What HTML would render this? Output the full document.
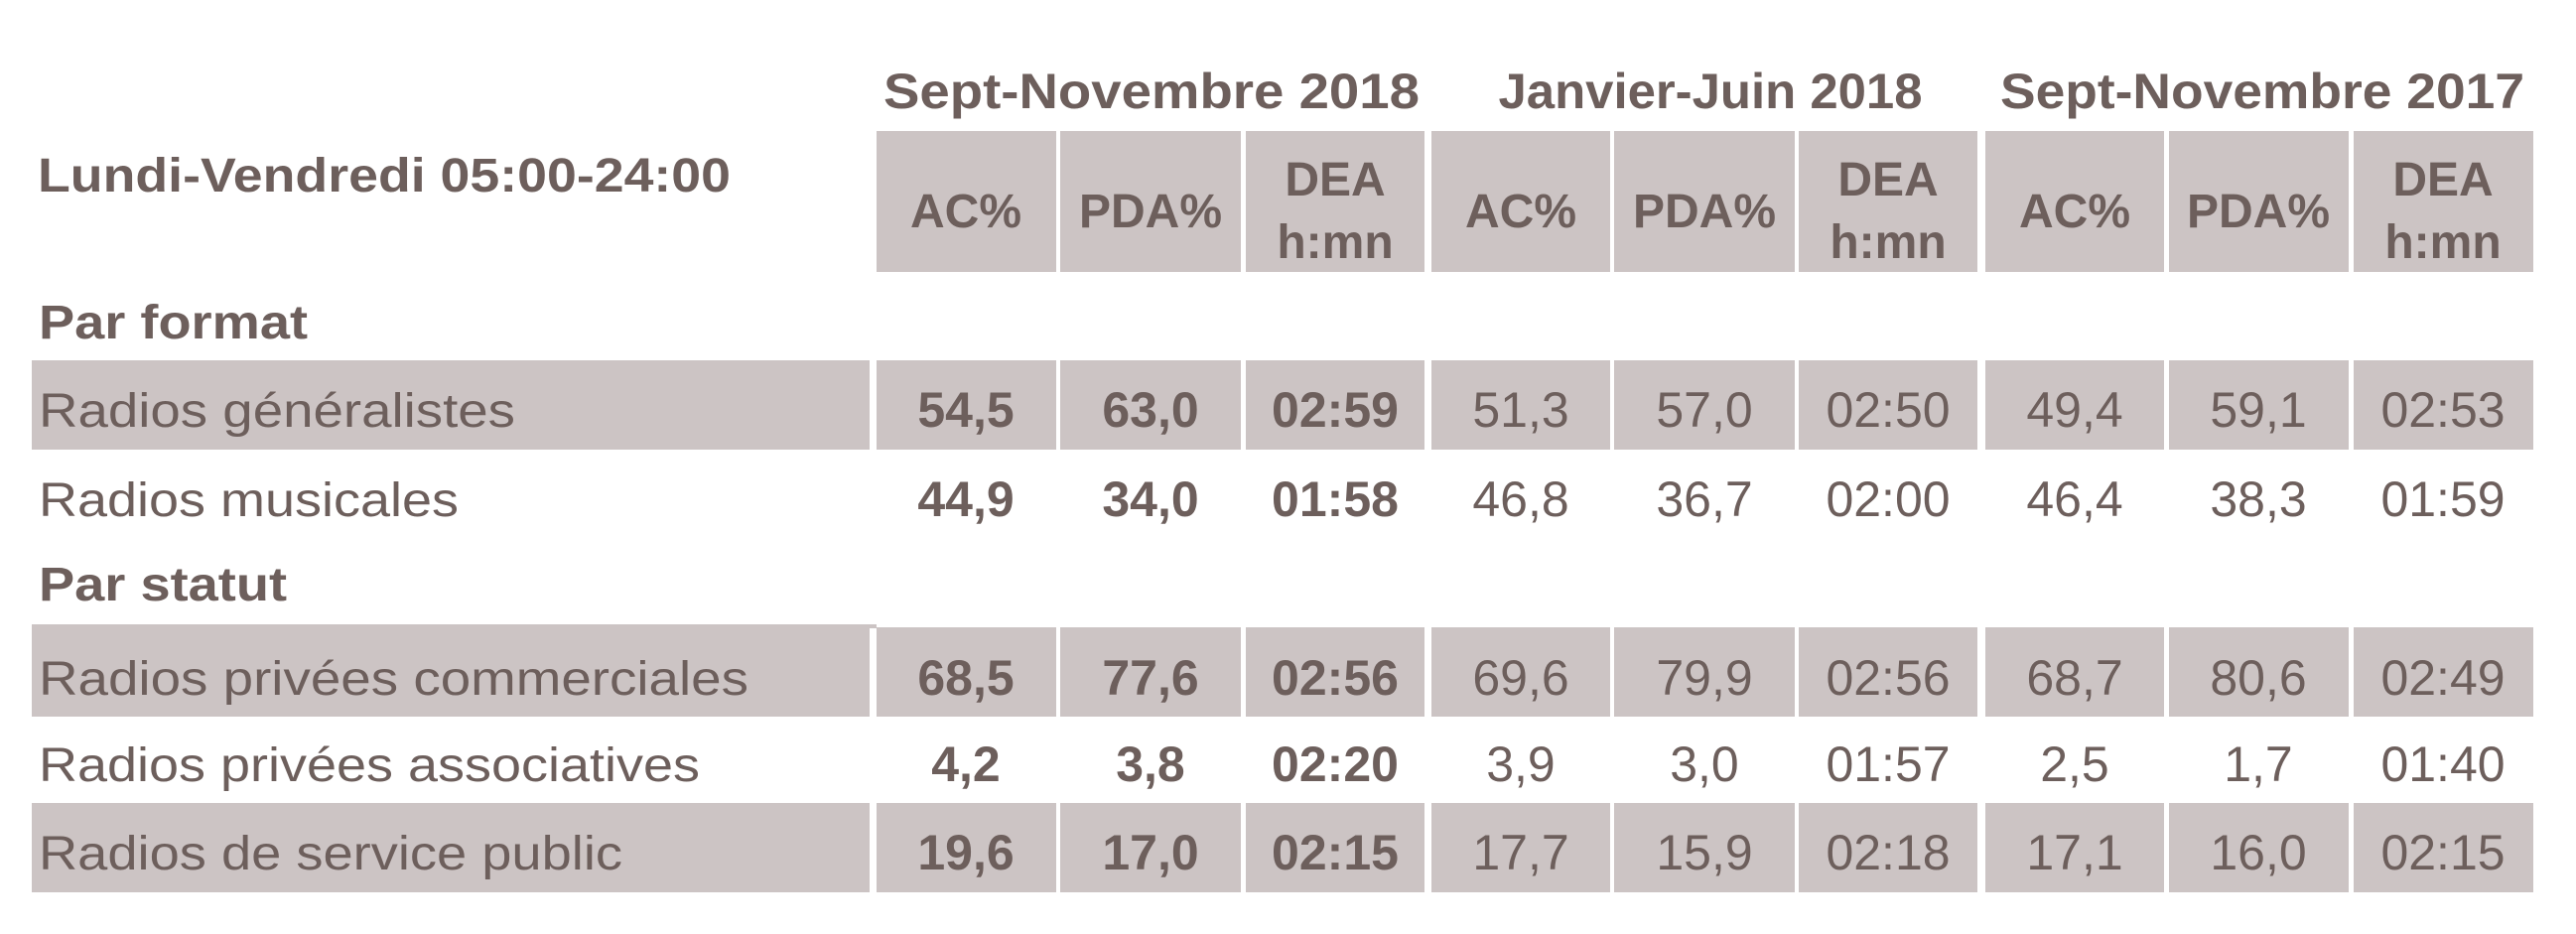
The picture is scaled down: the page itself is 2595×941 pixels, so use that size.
<!DOCTYPE html>
<html><head><meta charset="utf-8"><style>html,body{margin:0;padding:0;background:#fff}svg{display:block}</style></head>
<body>
<svg width="2595" height="941" xmlns="http://www.w3.org/2000/svg" font-family="Liberation Sans, sans-serif" fill="#6d5f5c">
<g fill="#ccc4c4">
<rect x="883" y="132" width="181" height="142"/><rect x="1068" y="132" width="182" height="142"/><rect x="1255" y="132" width="180" height="142"/>
<rect x="1442" y="132" width="180" height="142"/><rect x="1626" y="132" width="182" height="142"/><rect x="1812" y="132" width="180" height="142"/>
<rect x="2000" y="132" width="180" height="142"/><rect x="2185" y="132" width="181" height="142"/><rect x="2371" y="132" width="181" height="142"/>
</g>
<g id="r1" fill="#ccc4c4">
<rect x="32" y="363" width="844" height="90"/>
<rect x="883" y="363" width="181" height="90"/><rect x="1068" y="363" width="182" height="90"/><rect x="1255" y="363" width="180" height="90"/>
<rect x="1442" y="363" width="180" height="90"/><rect x="1626" y="363" width="182" height="90"/><rect x="1812" y="363" width="180" height="90"/>
<rect x="2000" y="363" width="180" height="90"/><rect x="2185" y="363" width="181" height="90"/><rect x="2371" y="363" width="181" height="90"/>
</g>
<use href="#r1" transform="translate(0,269)"/>
<use href="#r1" transform="translate(0,446)"/>
<rect x="32" y="629" width="851" height="4" fill="#ccc4c4"/>

<g font-weight="bold" font-size="50" text-anchor="middle">
<text x="1160" y="109" textLength="540" lengthAdjust="spacingAndGlyphs">Sept-Novembre 2018</text>
<text x="1723" y="109" textLength="427" lengthAdjust="spacingAndGlyphs">Janvier-Juin 2018</text>
<text x="2279" y="109" textLength="528" lengthAdjust="spacingAndGlyphs">Sept-Novembre 2017</text>
</g>
<g font-weight="bold" font-size="48">
<text x="38" y="193" textLength="698" lengthAdjust="spacingAndGlyphs">Lundi-Vendredi 05:00-24:00</text>
<text x="39" y="341" textLength="271" lengthAdjust="spacingAndGlyphs">Par format</text>
<text x="39" y="605" textLength="250" lengthAdjust="spacingAndGlyphs">Par statut</text>
</g>
<g font-weight="bold" font-size="48" text-anchor="middle">
<text x="973" y="229">AC%</text><text x="1159" y="229">PDA%</text><text x="1345" y="197">DEA</text><text x="1345" y="260">h:mn</text>
<text x="1532" y="229">AC%</text><text x="1717" y="229">PDA%</text><text x="1902" y="197">DEA</text><text x="1902" y="260">h:mn</text>
<text x="2090" y="229">AC%</text><text x="2275" y="229">PDA%</text><text x="2461" y="197">DEA</text><text x="2461" y="260">h:mn</text>
</g>
<g font-size="48">
<text x="39" y="430" textLength="480" lengthAdjust="spacingAndGlyphs">Radios généralistes</text>
<text x="39" y="520" textLength="423" lengthAdjust="spacingAndGlyphs">Radios musicales</text>
<text x="39" y="700" textLength="715" lengthAdjust="spacingAndGlyphs">Radios privées commerciales</text>
<text x="39" y="787" textLength="666" lengthAdjust="spacingAndGlyphs">Radios privées associatives</text>
<text x="39" y="876" textLength="588" lengthAdjust="spacingAndGlyphs">Radios de service public</text>
</g>
<g font-size="50" text-anchor="middle" font-weight="bold">
<text x="973" y="430">54,5</text><text x="1159" y="430">63,0</text><text x="1345" y="430">02:59</text>
<text x="973" y="520">44,9</text><text x="1159" y="520">34,0</text><text x="1345" y="520">01:58</text>
<text x="973" y="700">68,5</text><text x="1159" y="700">77,6</text><text x="1345" y="700">02:56</text>
<text x="973" y="787">4,2</text><text x="1159" y="787">3,8</text><text x="1345" y="787">02:20</text>
<text x="973" y="876">19,6</text><text x="1159" y="876">17,0</text><text x="1345" y="876">02:15</text>
</g>
<g font-size="50" text-anchor="middle">
<text x="1532" y="430">51,3</text><text x="1717" y="430">57,0</text><text x="1902" y="430">02:50</text>
<text x="2090" y="430">49,4</text><text x="2275" y="430">59,1</text><text x="2461" y="430">02:53</text>
<text x="1532" y="520">46,8</text><text x="1717" y="520">36,7</text><text x="1902" y="520">02:00</text>
<text x="2090" y="520">46,4</text><text x="2275" y="520">38,3</text><text x="2461" y="520">01:59</text>
<text x="1532" y="700">69,6</text><text x="1717" y="700">79,9</text><text x="1902" y="700">02:56</text>
<text x="2090" y="700">68,7</text><text x="2275" y="700">80,6</text><text x="2461" y="700">02:49</text>
<text x="1532" y="787">3,9</text><text x="1717" y="787">3,0</text><text x="1902" y="787">01:57</text>
<text x="2090" y="787">2,5</text><text x="2275" y="787">1,7</text><text x="2461" y="787">01:40</text>
<text x="1532" y="876">17,7</text><text x="1717" y="876">15,9</text><text x="1902" y="876">02:18</text>
<text x="2090" y="876">17,1</text><text x="2275" y="876">16,0</text><text x="2461" y="876">02:15</text>
</g>
</svg>
</body></html>
